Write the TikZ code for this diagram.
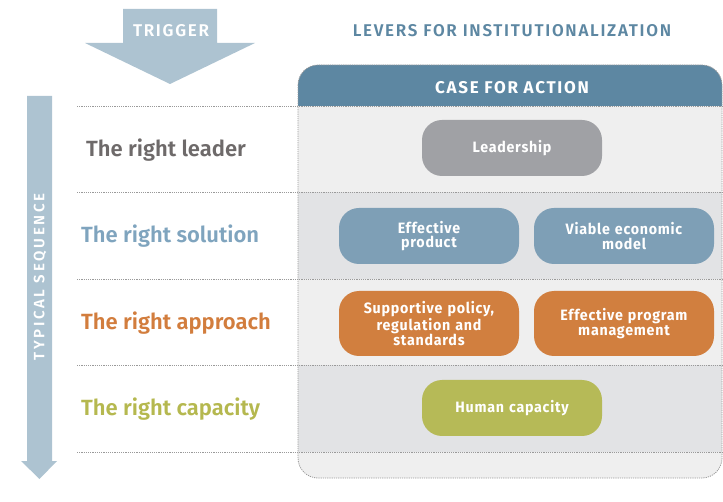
\documentclass[tikz,border=0pt]{standalone}
\usepackage{fontspec}
\setmainfont{Fira Sans}
\newfontfamily\semib{Fira Sans SemiBold}
\newfontfamily\capsf{Fira Sans SemiBold}[LetterSpace=10]
\newfontfamily\capsb{Fira Sans Bold}[LetterSpace=10]
\newfontfamily\boldf{Fira Sans Bold}[FakeStretch=0.95,LetterSpace=5]
\newfontfamily\spacedf{Fira Sans SemiBold}[LetterSpace=18]
\definecolor{arrowblue}{HTML}{ADC3D1}
\definecolor{hdrblue}{HTML}{5D87A2}
\definecolor{leadgray}{HTML}{A0A1A5}
\definecolor{solblue}{HTML}{7E9FB6}
\definecolor{apporange}{HTML}{D17F3F}
\definecolor{capgreen}{HTML}{B6BA57}
\definecolor{lbllead}{HTML}{6E6A6A}
\definecolor{lblsol}{HTML}{7FA4BE}
\definecolor{lblapp}{HTML}{D27D3D}
\definecolor{lblcap}{HTML}{B5B84F}
\definecolor{rowlight}{HTML}{EFEFEF}
\definecolor{rowdark}{HTML}{E2E3E5}
\definecolor{dotgray}{HTML}{9A9A9A}
\tikzset{
  lever/.style={rounded corners=20pt, minimum width=180pt, text width=174pt,
    align=center, text=white, inner sep=0pt, font=\boldf\fontsize{15}{14.8}\selectfont},
  rowlabel/.style={anchor=west, inner sep=0pt, font=\semib\fontsize{22}{24}\selectfont},
  dotline/.style={dotgray, line width=0.8pt, dash pattern=on 1.2pt off 1pt},
}
\begin{document}
\begin{tikzpicture}[x=1pt,y=-1pt]
\useasboundingbox (0,0) rectangle (723,502);
% big box background
\fill[rowlight, rounded corners=20pt] (298,65) rectangle (722,478);
\fill[rowdark] (298,192) rectangle (722,279);
\fill[rowdark] (298,365) rectangle (722,452);
\begin{scope}
  \clip (298,60) rectangle (723,106);
  \fill[hdrblue, rounded corners=20pt] (298,65) rectangle (722,478);
\end{scope}
\draw[dotline, rounded corners=20pt] (298,65) rectangle (722,478);
% row separators
\foreach \yy in {106,192,279,365,452} \draw[dotline] (77,\yy) -- (722,\yy);
% trigger arrow
\fill[arrowblue] (123,9) -- (217,9) -- (217,43) -- (255,43) -- (170,84) -- (85,43) -- (123,43) -- cycle;
\node[text=white, font=\capsf\fontsize{17}{17}\selectfont] (trigger) at (171,31) {TRIGGER};
\node[text=hdrblue, font=\capsf\fontsize{17}{17}\selectfont] (levers) at (512,31) {LEVERS FOR INSTITUTIONALIZATION};
\node[text=white, font=\capsb\fontsize{17}{17}\selectfont] (case) at (512,88) {CASE FOR ACTION};
% sequence arrow
\fill[arrowblue] (27,96) -- (52,96) -- (52,461) -- (57,461) -- (39.5,479) -- (21,461) -- (27,461) -- cycle;
\node[rotate=90, text=white, font=\spacedf\fontsize{15}{15}\selectfont] (seq) at (40,277) {TYPICAL SEQUENCE};
% row labels
\node[rowlabel, text=lbllead] (l1) at (86,150) {The right leader};
\node[rowlabel, text=lblsol] (l2) at (81,236) {The right solution};
\node[rowlabel, text=lblapp] (l3) at (81,323) {The right approach};
\node[rowlabel, text=lblcap] (l4) at (81,409) {The right capacity};
% levers
\node[lever, fill=leadgray, minimum height=56pt] (lead) at (512,148) {Leadership};
\node[lever, fill=solblue, minimum height=56pt] (prod) at (429,236) {Effective\\product};
\node[lever, fill=solblue, minimum height=56pt] (econ) at (624,236) {Viable economic\\model};
\node[lever, fill=apporange, minimum height=65pt] (policy) at (429,323.5) {Supportive policy,\\regulation and\\standards};
\node[lever, fill=apporange, minimum height=65pt] (prog) at (624,323.5) {Effective program\\management};
\node[lever, fill=capgreen, minimum height=56pt] (human) at (512,408) {Human capacity};
\end{tikzpicture}
\end{document}
